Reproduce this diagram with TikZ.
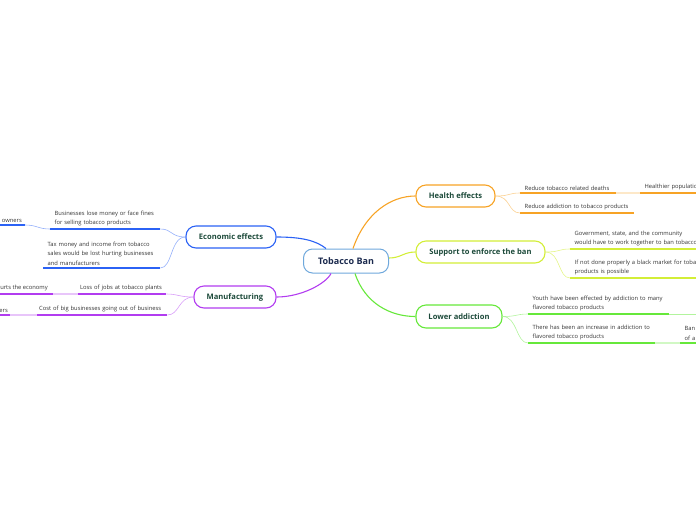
\documentclass[tikz,border=0pt]{standalone}
\usepackage{fontspec}
\setmainfont{Open Sans}
\definecolor{healthOr}{HTML}{F7A325}
\definecolor{supLime}{HTML}{D3EE37}
\definecolor{lowGreen}{HTML}{66E83A}
\definecolor{econBlue}{HTML}{2B62F5}
\definecolor{manuPurp}{HTML}{B23CF0}
\definecolor{banBlue}{HTML}{6FA8DC}
\definecolor{topicTxt}{HTML}{1C4A3A}
\definecolor{banTxt}{HTML}{1B2A4E}
\begin{document}
\begin{tikzpicture}[x=1pt,y=-1pt,
    topic/.style={draw, rounded corners=10pt, line width=1.1pt, fill=white,
      font=\fontsize{7.6}{9}\selectfont\bfseries, text=topicTxt, minimum height=22pt, inner sep=0pt},
    leaf/.style={font=\fontsize{5.8}{9.4}\selectfont, text=black!80, align=left,
      inner xsep=4.5pt, inner ysep=2.5pt, anchor=south west},
    uline/.style={line width=1.6pt},
    link/.style={line width=0.6pt}]
    \useasboundingbox (0,0) rectangle (696,520);
    \clip (0,0) rectangle (696,520);
    % central topic and main topics
    \node[draw=banBlue, rounded corners=9pt, line width=1pt, fill=white, minimum width=85pt,
      minimum height=24pt, font=\fontsize{9}{10}\selectfont\bfseries, text=banTxt] (ban) at (346,261) {Tobacco Ban};
    \node[topic, draw=healthOr, minimum width=79pt] (health) at (455.5,196) {Health effects};
    \node[topic, draw=supLime, minimum width=129pt] (support) at (480.5,252) {Support to enforce the ban};
    \node[topic, draw=lowGreen, minimum width=86pt, minimum height=23pt] (lower) at (459,316.5) {Lower addiction};
    \node[topic, draw=econBlue, minimum width=90pt] (econ) at (231,237) {Economic effects};
    \node[topic, draw=manuPurp, minimum width=82pt] (manu) at (235,297) {Manufacturing};
    \draw[healthOr, line width=1.1pt] ([xshift=7pt]ban.north) .. controls +(12,-35) and +(-25,0) .. (health.west);
    \draw[supLime, line width=1.1pt] ([yshift=3pt]ban.east) .. controls +(12,0) and +(-12,0) .. (support.west);
    \draw[lowGreen, line width=1.1pt] ([xshift=9pt]ban.south) .. controls +(10,30) and +(-25,0) .. (lower.west);
    \draw[econBlue, line width=1.1pt] (econ.east) .. controls +(25,0) and +(-10,-8) .. ([xshift=-20pt]ban.north);
    \draw[manuPurp, line width=1.1pt] (manu.east) .. controls +(25,0) and +(-5,10) .. ([xshift=-15pt]ban.south);
    % health effects
    \node[leaf, text width=87pt] (deaths) at (520,193) {Reduce tobacco related deaths};
    \node[leaf, text width=105pt] (addict) at (520,213) {Reduce addiction to tobacco products};
    \node[leaf, text width=90pt] (healthier) at (640,193) {Healthier population};
    \draw[uline, healthOr] (deaths.south west) -- (deaths.south east);
    \draw[uline, healthOr] (addict.south west) -- (addict.south east);
    \draw[uline, healthOr] (healthier.south west) -- (healthier.south east);
    \draw[link, healthOr!50] (health.east) .. controls +(15,0) and +(-12,0) .. (deaths.south west);
    \draw[link, healthOr!50] (health.east) .. controls +(15,0) and +(-12,0) .. (addict.south west);
    \draw[uline, healthOr!25] (deaths.south east) -- (healthier.south west);
    % support to enforce the ban
    \node[leaf, text width=150pt] (govt) at (570,249) {Government, state, and the community\\would have to work together to ban tobacco};
    \node[leaf, text width=150pt] (black) at (570,278) {If not done properly a black market for tobacco\\products is possible};
    \draw[uline, supLime] (govt.south west) -- (govt.south east);
    \draw[uline, supLime] (black.south west) -- (black.south east);
    \draw[link, supLime!60] (support.east) .. controls +(15,0) and +(-12,0) .. (govt.south west);
    \draw[link, supLime!60] (support.east) .. controls +(15,0) and +(-12,0) .. (black.south west);
    % lower addiction
    \node[leaf, text width=132pt] (youth) at (528,314) {Youth have been effected by addiction to many\\flavored tobacco products};
    \node[leaf, text width=118pt] (increase) at (528,343) {There has been an increase in addiction to\\flavored tobacco products};
    \node[leaf, text width=40pt] (banof) at (680,343) {Ban\\of a};
    \coordinate (youthnext) at (710,314);
    \draw[uline, lowGreen] (youth.south west) -- (youth.south east);
    \draw[uline, lowGreen] (increase.south west) -- (increase.south east);
    \draw[uline, lowGreen] (banof.south west) -- (banof.south east);
    \draw[link, lowGreen!50] (lower.east) .. controls +(15,0) and +(-12,0) .. (youth.south west);
    \draw[link, lowGreen!50] (lower.east) .. controls +(15,0) and +(-12,0) .. (increase.south west);
    \draw[link, lowGreen!50] (youth.south east) -- (youthnext);
    \draw[uline, lowGreen!30] (increase.south east) -- (banof.south west);
    % economic effects
    \node[leaf, text width=101pt] (fines) at (50,229) {Businesses lose money or face fines\\for selling tobacco products};
    \node[leaf, text width=108pt] (tax) at (43,268) {Tax money and income from tobacco\\sales would be lost hurting businesses\\and manufacturers};
    \node[leaf, anchor=south east, inner xsep=3pt] (owners) at (25,225) {owners};
    \draw[uline, econBlue] (fines.south west) -- (fines.south east);
    \draw[uline, econBlue] (tax.south west) -- (tax.south east);
    \draw[uline, econBlue] (owners.south east) -- ++(-40,0);
    \draw[link, econBlue!50] (econ.west) .. controls +(-15,0) and +(12,0) .. (fines.south east);
    \draw[link, econBlue!50] (econ.west) .. controls +(-15,0) and +(12,0) .. (tax.south east);
    \draw[link, econBlue!50] (fines.south west) .. controls +(-12,0) and +(12,0) .. (owners.south east);
    % manufacturing
    \node[leaf, text width=84pt, inner xsep=2pt] (jobs) at (78,294) {Loss of jobs at tobacco plants};
    \node[leaf, text width=126pt, inner xsep=2pt] (cost) at (37,315) {Cost of big businesses going out of business};
    \node[leaf, anchor=south east, inner xsep=5pt] (hurts) at (53,294) {Hurts the economy};
    \node[leaf, anchor=south east, inner xsep=2pt] (ers) at (10,315) {ers};
    \draw[uline, manuPurp] (jobs.south west) -- (jobs.south east);
    \draw[uline, manuPurp] (cost.south west) -- (cost.south east);
    \draw[uline, manuPurp] (hurts.south east) -- ++(-60,0);
    \draw[uline, manuPurp] (ers.south east) -- ++(-20,0);
    \draw[link, manuPurp!50] (manu.west) .. controls +(-15,0) and +(12,0) .. (jobs.south east);
    \draw[link, manuPurp!50] (manu.west) .. controls +(-15,0) and +(12,0) .. (cost.south east);
    \draw[uline, manuPurp!30] (jobs.south west) -- (hurts.south east);
    \draw[uline, manuPurp!30] (cost.south west) -- (ers.south east);
\end{tikzpicture}
\end{document}
